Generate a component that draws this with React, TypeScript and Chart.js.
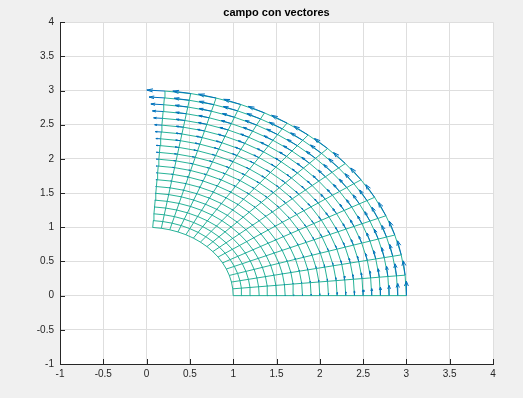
import { useEffect, useRef } from 'react';
import { Chart, registerables } from 'chart.js';

Chart.register(...registerables);

// Polar grid: radii and angles (radians) of the mesh
const radii = [1.0, 1.1, 1.2, 1.3, 1.4, 1.5, 1.6, 1.7, 1.8, 1.9, 2.0, 2.1, 2.2, 2.3, 2.4, 2.5, 2.6, 2.7, 2.8, 2.9, 3.0];
const angles = [0.0, 0.1, 0.2, 0.3, 0.4, 0.5, 0.6, 0.7, 0.8, 0.9, 1.0, 1.1, 1.2, 1.3, 1.4, 1.5];
// Displayed (tangential, counter-clockwise) arrow length for each radius
const arrowLengths = [
  0.001, 0.0014, 0.0022, 0.0032, 0.0047, 0.0066, 0.0091, 0.0123, 0.0163, 0.0214, 0.0277,
  0.0353, 0.0445, 0.0556, 0.069, 0.084, 0.103, 0.124, 0.149, 0.177, 0.21,
];
const headAlpha = 0.33;
const headBeta = 0.33;

const axisMin = -1;
const axisMax = 4;
const tickStep = 0.5;
const title = 'campo con vectores';

const meshColor = '#27b397';
const arrowColor = '#0072BD';
const textColor = '#262626';

type P = { x: number; y: number };
const GAP: P = { x: NaN, y: NaN };

function buildMesh(): P[] {
  const pts: P[] = [];
  for (const r of radii) {
    for (const t of angles) pts.push({ x: r * Math.cos(t), y: r * Math.sin(t) });
    pts.push(GAP);
  }
  for (const t of angles) {
    for (const r of radii) pts.push({ x: r * Math.cos(t), y: r * Math.sin(t) });
    pts.push(GAP);
  }
  return pts;
}

function buildArrows(): P[] {
  const pts: P[] = [];
  radii.forEach((r, i) => {
    const len = arrowLengths[i];
    for (const t of angles) {
      const x = r * Math.cos(t);
      const y = r * Math.sin(t);
      const u = -len * Math.sin(t);
      const v = len * Math.cos(t);
      const tip = { x: x + u, y: y + v };
      const h1 = { x: tip.x - headAlpha * (u + headBeta * v), y: tip.y - headAlpha * (v - headBeta * u) };
      const h2 = { x: tip.x - headAlpha * (u - headBeta * v), y: tip.y - headAlpha * (v + headBeta * u) };
      pts.push({ x, y }, tip, GAP, h1, tip, h2, GAP);
    }
  });
  return pts;
}

const backgroundPlugin = {
  id: 'bg',
  beforeDraw(chart: any) {
    const { ctx, chartArea } = chart;
    ctx.save();
    ctx.fillStyle = '#f0f0f0';
    ctx.fillRect(0, 0, chart.width, chart.height);
    ctx.fillStyle = '#ffffff';
    ctx.fillRect(chartArea.left, chartArea.top, chartArea.right - chartArea.left, chartArea.bottom - chartArea.top);
    ctx.restore();
  },
};

const inwardTicksPlugin = {
  id: 'inwardTicks',
  afterDraw(chart: any) {
    const { ctx, chartArea, scales } = chart;
    ctx.save();
    ctx.strokeStyle = textColor;
    ctx.lineWidth = 1;
    ctx.beginPath();
    for (const tk of scales.x.ticks) {
      const px = Math.round(scales.x.getPixelForValue(tk.value)) + 0.5;
      ctx.moveTo(px, chartArea.bottom);
      ctx.lineTo(px, chartArea.bottom - 5);
    }
    for (const tk of scales.y.ticks) {
      const py = Math.round(scales.y.getPixelForValue(tk.value)) + 0.5;
      ctx.moveTo(chartArea.left, py);
      ctx.lineTo(chartArea.left + 5, py);
    }
    ctx.stroke();
    ctx.restore();
  },
};

export default function App() {
  const ref = useRef<HTMLCanvasElement | null>(null);

  useEffect(() => {
    document.body.style.margin = '0';
    const canvas = ref.current;
    if (!canvas) return;
    const tickFont = { family: 'Liberation Sans, Arial, Helvetica, sans-serif', size: 10 };
    const chart = new Chart(canvas, {
      type: 'scatter',
      data: {
        datasets: [
          {
            data: buildArrows(),
            showLine: true,
            spanGaps: false,
            borderColor: arrowColor,
            borderWidth: 1,
            pointRadius: 0,
          },
          {
            data: buildMesh(),
            showLine: true,
            spanGaps: false,
            borderColor: meshColor,
            borderWidth: 1,
            pointRadius: 0,
          },
        ],
      },
      options: {
        animation: false,
        responsive: false,
        devicePixelRatio: 1,
        layout: { padding: { left: 0, right: 30, top: 0, bottom: 0 } },
        plugins: {
          legend: { display: false },
          tooltip: { enabled: false },
          title: {
            display: true,
            fullSize: false,
            text: title,
            color: '#000000',
            font: { family: 'Liberation Sans, Arial, Helvetica, sans-serif', size: 11, weight: 'bold' },
            padding: { top: 6, bottom: 3 },
          },
        },
        scales: {
          x: {
            type: 'linear',
            min: axisMin,
            max: axisMax,
            ticks: {
              stepSize: tickStep,
              color: textColor,
              font: tickFont,
              padding: 4,
              maxRotation: 0,
              callback: (v: any) => String(v),
            },
            grid: { color: '#dedede', drawTicks: false },
            border: { display: true, color: textColor, width: 1 },
            afterFit: (s: any) => {
              s.height = 34;
            },
          },
          y: {
            type: 'linear',
            min: axisMin,
            max: axisMax,
            ticks: {
              stepSize: tickStep,
              color: textColor,
              font: tickFont,
              padding: 6,
              callback: (v: any) => String(v),
            },
            grid: { color: '#dedede', drawTicks: false },
            border: { display: true, color: textColor, width: 1 },
            afterFit: (s: any) => {
              s.width = 60;
            },
          },
        },
      },
      plugins: [backgroundPlugin, inwardTicksPlugin],
    } as any);
    return () => chart.destroy();
  }, []);

  return (
    <div style={{ position: 'fixed', left: 0, top: 0, width: 523, height: 398, background: '#f0f0f0' }}>
      <canvas ref={ref} width={523} height={398} style={{ display: 'block' }} />
    </div>
  );
}
